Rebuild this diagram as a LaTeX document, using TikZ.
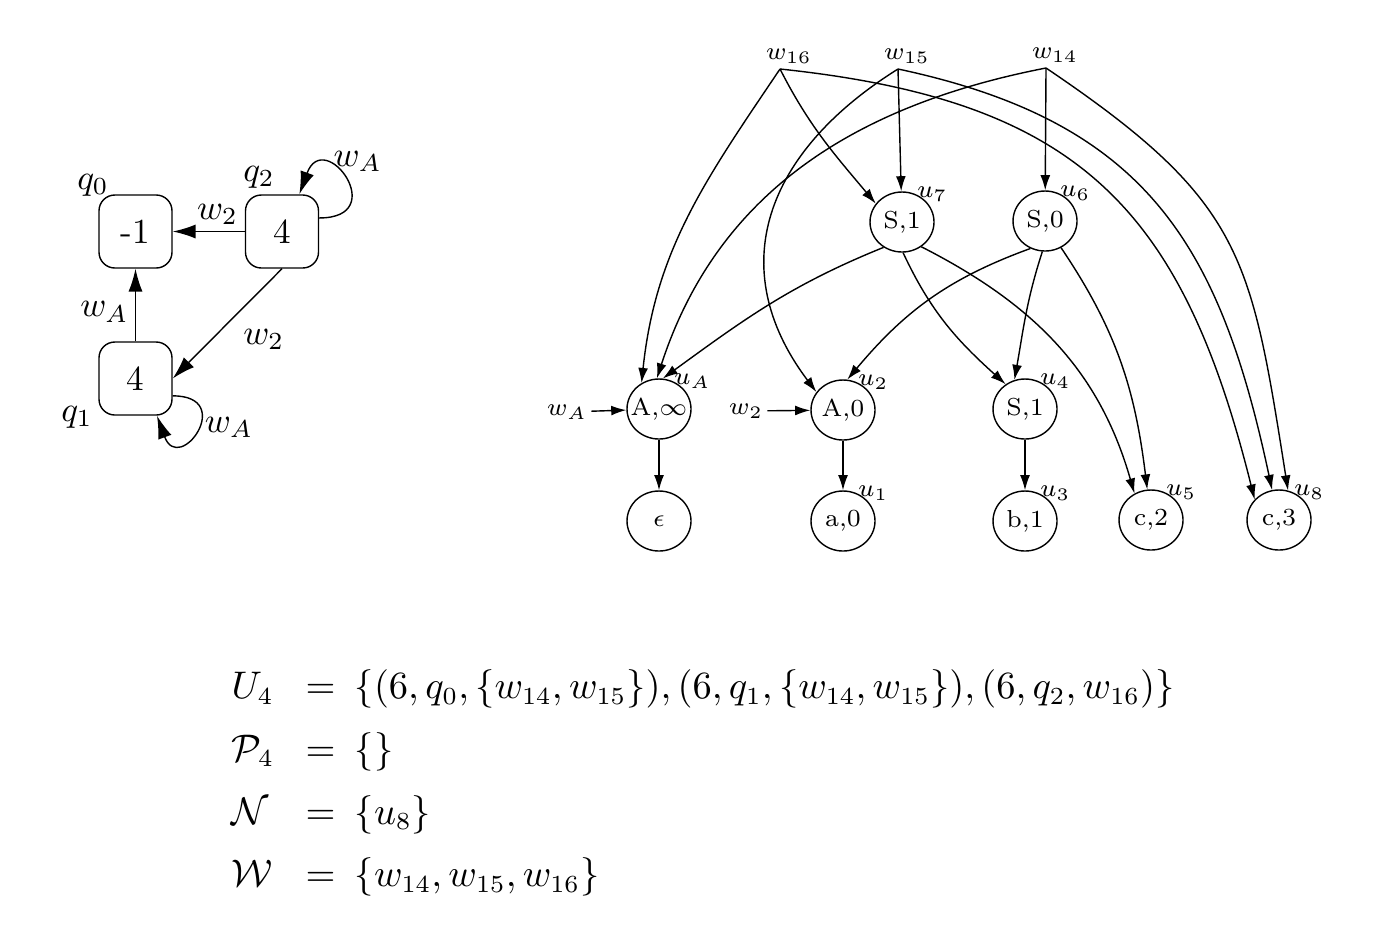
\documentclass[tikz,border=0pt]{standalone}
\usetikzlibrary{shapes.geometric,arrows.meta}
\begin{document}
\begin{tikzpicture}[>={Latex[length=4.3pt,width=2.8pt]},
    st/.style={draw, rounded corners=4.5pt, minimum size=.73cm, inner sep=0pt},
    gn/.style={draw, ellipse, minimum width=.64cm, minimum height=.6cm, inner sep=0pt, font=\scriptsize},
    un/.style={label={[font=\scriptsize,inner sep=.5pt,xshift=-3pt,yshift=-1pt]north east:$u_{#1}$}},
    wn/.style={label={[font=\scriptsize,inner sep=1.5pt,xshift=2.5pt]above:$w_{#1}$}},
    big/.style={-{Latex[length=6.5pt,width=4pt]}}]
\useasboundingbox (0,0) rectangle (13.98,-9.46);
% automaton
    \node[st] (q0) at (1.355,-2.315) {-1};
    \node[st] (q2) at (2.82,-2.315) {4};
    \node[st] (q1) at (1.355,-3.785) {4};
    \node (lq0) at (.93,-1.85) {$q_0$};
    \node (lq2) at (2.59,-1.77) {$q_2$};
    \node (lq1) at (.77,-4.17) {$q_1$};
    \draw[big] (q2)--node[above,xshift=2.5pt,yshift=-1.5pt]{$w_2$}(q0);
    \draw[big] (q1)--node[left,xshift=1.5pt,yshift=-2pt]{$w_A$}(q0);
    \draw[big] (q2.south)--node[below right,xshift=1pt,yshift=2pt]{$w_2$}(q1.east);
    \draw[big] (q2.20) to[out=0,in=70,looseness=6] node[pos=.5,above right,xshift=-7pt,yshift=-1pt]{$w_A$} (q2.65);
    \draw[big] (q1.-25) to[out=0,in=-70,looseness=6.5] node[pos=.4,right,xshift=-2.5pt,yshift=-2pt]{$w_A$} (q1.-60);
% graph
    \coordinate[wn=16] (w16) at (7.80,-.69);
    \coordinate[wn=15] (w15) at (8.98,-.69);
    \coordinate[wn=14] (w14) at (10.46,-.68);
    \node[gn,un=7] (s1) at (9.02,-2.22) {S,1};
    \node[gn,un=6] (s0) at (10.45,-2.21) {S,0};
    \node[gn,un=A,inner xsep=-2pt] (ainf) at (6.59,-4.09) {A,$\infty$};
    \node[gn,un=2] (a0) at (8.43,-4.10) {A,0};
    \node[gn,un=4] (s1b) at (10.25,-4.09) {S,1};
    \node[gn] (eps) at (6.59,-5.21) {$\epsilon$};
    \node[gn,un=1] (a0b) at (8.43,-5.21) {a,0};
    \node[gn,un=3] (b1) at (10.25,-5.21) {b,1};
    \node[gn,un=5] (c2) at (11.51,-5.20) {c,2};
    \node[gn,un=8] (c3) at (12.79,-5.20) {c,3};
    \node[font=\scriptsize,inner sep=1pt] (wa) at (5.67,-4.12) {$w_A$};
    \node[font=\scriptsize,inner sep=1pt] (wb) at (7.46,-4.11) {$w_2$};
    \draw[->] (wa)--(ainf);
    \draw[->] (wb)--(a0);
    \draw[->] (ainf)--(eps);
    \draw[->] (a0)--(a0b);
    \draw[->] (s1b)--(b1);
    \draw[->] (w15)--(s1);
    \draw[->] (w14)--(s0);
    \draw[->] (w16) to[out=236,in=84] (ainf.124);
    \draw[->] (w16) to[out=-63,in=130] (s1.145);
    \draw[->] (w16) to[out=-6,in=104,looseness=1.2] (c3.140);
    \draw[->] (w15) to[out=212,in=127,looseness=1.2] (a0.146);
    \draw[->] (w15) to[out=-12,in=102,looseness=1.15] (c3.103);
    \draw[->] (w14) to[out=191,in=72] (ainf.94);
    \draw[->] (w14) to[out=-34,in=99,looseness=1.25] (c3.73);
    \draw[->] (s1.-126) to[out=202,in=36] (ainf.83);
    \draw[->] (s1.-88) to[out=-65,in=138] (s1b.128);
    \draw[->] (s1.-52) to[out=-27,in=106] (c2.122);
    \draw[->] (s0.-118) to[out=200,in=50] (a0.82);
    \draw[->] (s0.-95) to[out=-108,in=80] (s1b.110);
    \draw[->] (s0.-59) to[out=-56,in=97] (c2.97);
% sets
    \node[anchor=west,inner sep=0pt] (sets) at (2.31,-7.80) {\fontsize{10.5}{12.6}\selectfont\renewcommand{\arraystretch}{1.42}%
    $\begin{array}{@{}l@{\hspace{8.9pt}}c@{\hspace{5.5pt}}l@{}}
    U_4 & = & \{(6,q_0,\{w_{14},w_{15}\}),(6,q_1,\{w_{14},w_{15}\}),(6,q_2,w_{16})\}\\
    \mathcal{P}_4 & = & \{\}\\
    \mathcal{N} & = & \{u_8\}\\
    \mathcal{W} & = & \{w_{14},w_{15},w_{16}\}
    \end{array}$};
\end{tikzpicture}
\end{document}
